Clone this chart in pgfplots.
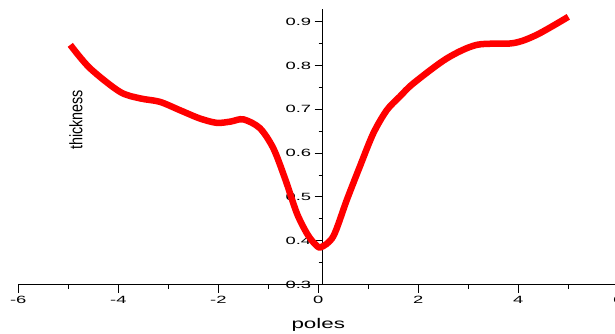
\documentclass[border=0pt]{standalone}
\usepackage{fontspec}
\setmainfont{Liberation Sans}
\newfontfamily\tickfont[FakeStretch=1.75]{Liberation Sans}
\newfontfamily\labfont[FakeStretch=1.6]{Liberation Sans}
\newfontfamily\narrowfont[FakeStretch=0.8]{Liberation Sans}
\usepackage{pgfplots}
\pgfplotsset{compat=1.18}

\begin{document}
\begin{tikzpicture}
\begin{axis}[
  at={(0,0)}, anchor=south west,
  scale only axis,
  width=600pt, height=276pt,
  xmin=-6, xmax=6,
  ymin=0.3, ymax=0.93,
  axis x line=bottom,
  axis y line=center,
  axis y line shift=-4.4pt,
  axis line style={-, black, line width=1.1pt},
  xtick={-6,-4,...,6},
  minor xtick={-5,-3,...,5},
  ytick={0.3,0.4,...,0.9},
  minor ytick={0.35,0.45,...,0.85},
  hide obscured y ticks=false,
  hide obscured x ticks=false,
  tick align=outside,
  major tick length=8pt,
  minor tick length=4pt,
  tick style={black, line width=0.9pt},
  ticklabel style={font=\tickfont\fontsize{10.5}{12}\selectfont},
  /pgf/number format/assume math mode=true,
  /pgf/number format/fixed,
  /pgf/number format/precision=1,
  clip=false,
]
\addplot [red, line width=6.5pt, smooth, tension=0.5] table {
-4.96 0.847
-4.57 0.794
-3.97 0.740
-3.57 0.725
-3.17 0.717
-2.77 0.698
-2.37 0.679
-2.03 0.669
-1.75 0.672
-1.50 0.677
-1.17 0.657
-0.90 0.611
-0.66 0.540
-0.43 0.463
-0.23 0.417
-0.08 0.394
0.05 0.385
0.30 0.410
0.57 0.493
0.83 0.569
1.10 0.645
1.37 0.698
1.63 0.729
1.90 0.759
2.57 0.816
3.17 0.847
3.90 0.851
4.37 0.870
5.00 0.911
};
\node[font=\labfont\fontsize{14}{16}\selectfont] at (axis cs:0,0.3) [yshift=-40.5pt] {poles};
\node[rotate=90, font=\narrowfont\fontsize{18}{20}\selectfont] at (axis cs:-4.846,0.6756) {thickness};
\end{axis}
\pgfresetboundingbox
\path[use as bounding box] (-18.3pt,-48.5pt) rectangle (596.7pt,284.5pt);
\end{tikzpicture}
\end{document}
